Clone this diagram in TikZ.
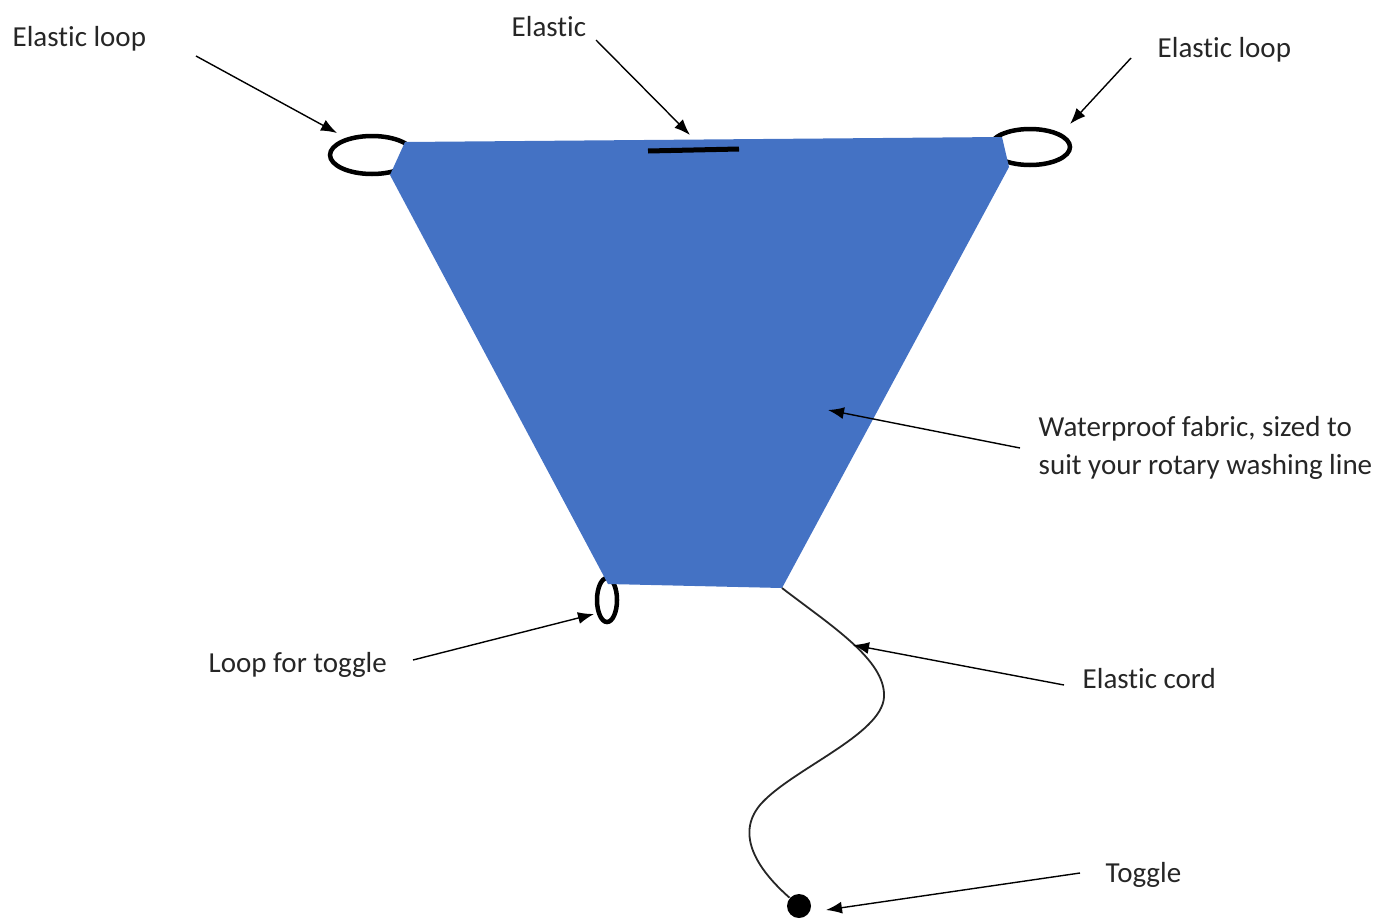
\documentclass[tikz,border=0pt]{standalone}
\usepackage{fontspec}
\setmainfont{Carlito}[Ligatures={NoCommon,NoRare}]
\usepackage{tikz}
\usetikzlibrary{arrows.meta,shapes.geometric}

\definecolor{fabricblue}{HTML}{4472C4}
\definecolor{labelgray}{HTML}{262626}

\begin{document}
\begin{tikzpicture}[x=1pt,y=-1pt,->,>={Latex[length=16pt,width=12pt]},
                    line width=1.4pt,
                    label text/.style={inner sep=0pt,text=labelgray,
                      font=\fontsize{29}{38}\selectfont},
                    loop ring/.style={ellipse,draw,line width=4.5pt,inner sep=0pt,-}]
  \useasboundingbox (0,0) rectangle (1380,918);

  % loops sit behind the fabric
  \node[loop ring,minimum width=84pt,minimum height=38pt] (lloop) at (372,155) {};
  \node[loop ring,minimum width=80pt,minimum height=36pt] (rloop) at (1030,147) {};
  \node[loop ring,minimum width=20pt,minimum height=44pt] (tloop) at (607,600) {};

  % fabric
  \coordinate (fabTL) at (405,142);
  \coordinate (fabTR) at (1002,137);
  \coordinate (fabBR) at (782,588);
  \fill[fabricblue] (fabTL) -- (fabTR) -- (1009,167) -- (fabBR) -- (608,584)
    -- (390,175) -- cycle;
  \draw[-,line width=5pt] (648,151) -- (739,149);

  % cord and toggle
  \node[circle,fill=black,minimum size=24pt,inner sep=0pt] (toggle) at (799,906) {};
  \draw[-,line width=1.8pt,draw=black!85] (fabBR)
    .. controls (830,625) and (886,660) .. (884,697)
    .. controls (882,735) and (790,770) .. (760,805)
    .. controls (735,835) and (758,870) .. (toggle);

  % labels
  \node[label text,anchor=base west] (lloopTxt) at (12,46) {Elastic loop};
  \node[label text,anchor=base west] (elasticTxt) at (511,36) {Elastic};
  \node[label text,anchor=base west] (rloopTxt) at (1157,57) {Elastic loop};
  \node[label text,anchor=west,align=left] (fabricTxt) at (1038,448)
    {Waterproof fabric, sized to\\suit your rotary washing line};
  \node[label text,anchor=base west] (tloopTxt) at (208,672) {Loop for toggle};
  \node[label text,anchor=base west] (cordTxt) at (1082,688) {Elastic cord};
  \node[label text,anchor=base west] (toggleTxt) at (1105,882) {Toggle};

  % arrow ends
  \coordinate (a1) at (196,56);   \coordinate (b1) at (337,133);
  \coordinate (a2) at (596,40);   \coordinate (b2) at (690,135);
  \coordinate (a3) at (1131,58);  \coordinate (b3) at (1070,124);
  \coordinate (a4) at (1020,448); \coordinate (b4) at (828,410);
  \coordinate (a5) at (413,660);  \coordinate (b5) at (594,614);
  \coordinate (a6) at (1064,685); \coordinate (b6) at (853,645);
  \coordinate (a7) at (1080,873); \coordinate (b7) at (826,910);

  \foreach \i in {1,...,7}
    \draw (a\i) -- (b\i);
\end{tikzpicture}
\end{document}
